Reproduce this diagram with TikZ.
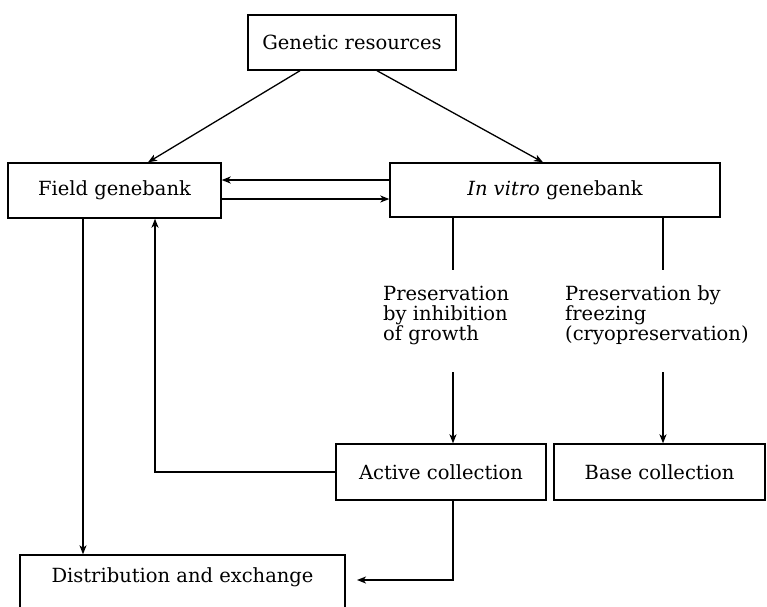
\documentclass[tikz,border=0pt]{standalone}
\usepackage{fontspec}
\setmainfont{DejaVu Serif}
\usetikzlibrary{arrows.meta,calc}
\begin{document}
\begin{tikzpicture}[x=1pt,y=-1pt,
  txt/.style={font=\fontsize{19.5}{20}\selectfont},
  box/.style={draw, line width=1.4pt, inner sep=0pt, txt},
  lbl/.style={align=left, inner sep=0pt, anchor=west, txt},
  conn/.style={line width=1.3pt},
  arr/.style={conn, -{Stealth[length=9pt,width=7pt,inset=2.5pt]}}]
\useasboundingbox (0,0) rectangle (767,606);
% boxes
\node[box, minimum width=208pt, minimum height=55pt] (gen) at (352,42.5) {Genetic resources};
\node[box, minimum width=213pt, minimum height=55pt] (field) at (114.5,190.5) {Field genebank};
\node[box, minimum width=330pt, minimum height=54pt] (invitro) at (555,190) {\textit{In vitro} genebank};
\node[box, minimum width=210pt, minimum height=56pt] (active) at (441,472) {Active collection};
\node[box, minimum width=211pt, minimum height=56pt] (base) at (659.5,472) {Base collection};
\node[box, minimum width=325pt, minimum height=56pt, text height=14pt, text depth=16pt] (dist) at (182.5,583) {Distribution and exchange};
% labels
\node[lbl] (pres1) at (383,315) {Preservation\\by inhibition\\of growth};
\node[lbl] (pres2) at (565,315) {Preservation by\\freezing\\(cryopreservation)};
% free ends
\coordinate (k1a) at (453,270);
\coordinate (k1b) at (453,372);
\coordinate (k2a) at (663,270);
\coordinate (k2b) at (663,372);
\coordinate (k3) at (357,580);
% connectors
\draw[arr] ($(gen.south)+(-52,0)$) -- ($(field.north)+(33.5,0)$);
\draw[arr] ($(gen.south)+(25,0)$) -- ($(invitro.north)+(-12,0)$);
\draw[arr] ($(invitro.west)+(0,-10)$) -- ($(field.east)+(0,-10.5)$);
\draw[arr] ($(field.east)+(0,8.5)$) -- ($(invitro.west)+(0,9)$);
\draw[arr] ($(field.south)+(-31.5,0)$) -- ($(dist.north)+(-99.5,0)$);
\draw[arr] (active.west) -| ($(field.south)+(40.5,0)$);
\draw[conn] (invitro.south -| k1a) -- (k1a);
\draw[arr] (k1b) -- (active.north -| k1b);
\draw[conn] (invitro.south -| k2a) -- (k2a);
\draw[arr] (k2b) -- (base.north -| k2b);
\draw[arr] (active.south -| k1a) |- (k3);
\end{tikzpicture}
\end{document}
